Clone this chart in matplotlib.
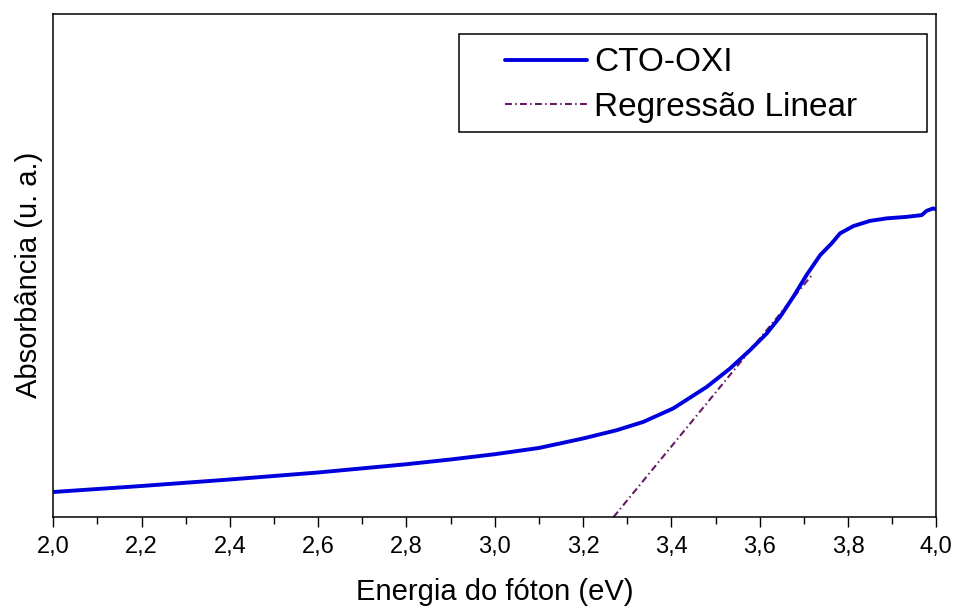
import matplotlib
matplotlib.use("Agg")
import matplotlib.pyplot as plt
from matplotlib.ticker import MultipleLocator, FuncFormatter
from matplotlib.patches import Rectangle

# Measured absorption spectrum (arbitrary units)
energy_ev = [2.000, 2.200, 2.400, 2.600, 2.800, 2.900, 3.000, 3.100, 3.200, 3.276,
             3.336, 3.404, 3.480, 3.533, 3.578, 3.616, 3.646, 3.676, 3.706, 3.737,
             3.763, 3.782, 3.812, 3.850, 3.888, 3.933, 3.967, 3.978, 3.993, 4.000]
absorbance = [0.100, 0.124, 0.150, 0.178, 0.211, 0.230, 0.251, 0.276, 0.314, 0.347,
              0.380, 0.434, 0.520, 0.594, 0.667, 0.734, 0.800, 0.880, 0.967, 1.047,
              1.094, 1.134, 1.163, 1.184, 1.194, 1.200, 1.207, 1.224, 1.234, 1.230]

# Linear fit of the absorption edge, extrapolated to zero absorbance
fit_energy = [3.269, 3.718]
fit_absorbance = [0.0, 0.967]

xticks = [2.0, 2.2, 2.4, 2.6, 2.8, 3.0, 3.2, 3.4, 3.6, 3.8, 4.0]

plt.rcParams["font.family"] = ["Liberation Sans", "DejaVu Sans"]

fig = plt.figure(figsize=(9.6, 6.07), dpi=100)
ax = fig.add_axes([53.3 / 960, 90 / 607, 883 / 960, 503 / 607])

ax.plot(energy_ev, absorbance, color="#0000dd", lw=2.8, label="CTO-OXI",
        solid_capstyle="round", solid_joinstyle="round", zorder=3)
ax.plot(fit_energy, fit_absorbance, color="#661a66", lw=1.5,
        linestyle=(0, (3.3, 1.6, 0.7, 1.6)), label="Regressão Linear", zorder=2)

ax.set_xlim(2.0, 4.0)
ax.set_ylim(0.0, 2.011)
ax.set_xticks(xticks)
ax.xaxis.set_minor_locator(MultipleLocator(0.1))
ax.xaxis.set_major_formatter(FuncFormatter(lambda v, p: f"{v:.1f}".replace(".", ",")))
ax.set_yticks([])
ax.tick_params(axis="x", which="major", direction="out", length=7.5, width=1,
               labelsize=17, pad=6.0)
ax.tick_params(axis="x", which="minor", direction="out", length=5, width=1)
for s in ax.spines.values():
    s.set_linewidth(1.1)

ax.set_xlabel("Energia do fóton (eV)", fontsize=21)
ax.xaxis.set_label_coords(0.5, -0.121)
ax.set_ylabel("Absorbância (u. a.)", fontsize=21)
ax.yaxis.set_label_coords(-0.012, 0.481)

# Legend entries without their own frame; the box is drawn separately
leg = ax.legend(loc="upper left", bbox_to_anchor=(0.5115, 0.9336), fontsize=24,
                frameon=False, borderpad=0, borderaxespad=0,
                handlelength=2.46, handletextpad=0.21, labelspacing=0.41)
ax.add_patch(Rectangle((0.4598, 0.7648), 0.9898 - 0.4598, 0.9596 - 0.7648,
                       transform=ax.transAxes, fill=False, edgecolor="black",
                       lw=1.1, zorder=4))

fig.savefig("out.png", dpi=100)
